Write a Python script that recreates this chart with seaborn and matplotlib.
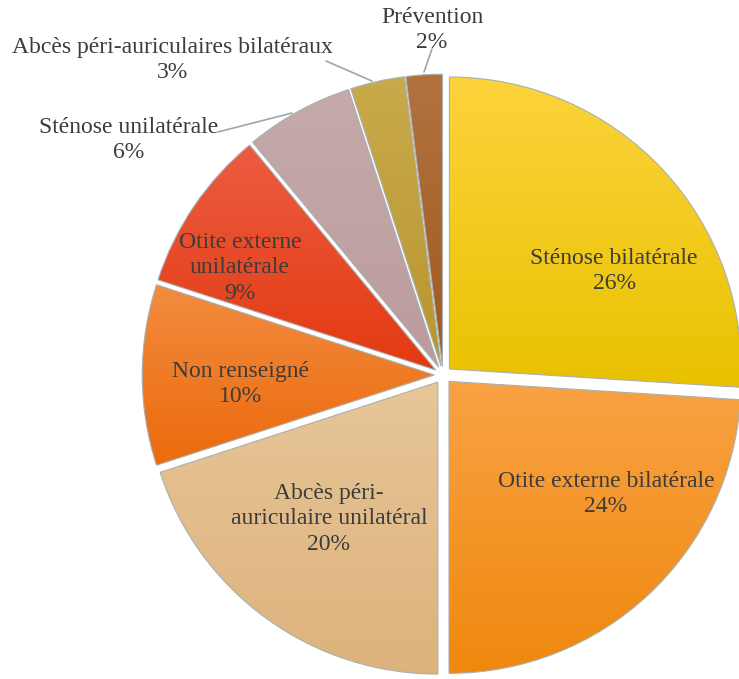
"""Pie chart of indications, recreated with seaborn/matplotlib."""

import matplotlib.pyplot as plt
import numpy as np
import seaborn as sns
from matplotlib.colors import LinearSegmentedColormap

categories = [
    "Sténose bilatérale",
    "Otite externe bilatérale",
    "Abcès péri-auriculaire unilatéral",
    "Non renseigné",
    "Otite externe unilatérale",
    "Sténose unilatérale",
    "Abcès péri-auriculaires bilatéraux",
    "Prévention",
]
shares = [26, 24, 20, 10, 9, 6, 3, 2]
label_texts = [
    "Sténose bilatérale\n26%",
    "Otite externe bilatérale\n24%",
    "Abcès péri-\nauriculaire unilatéral\n20%",
    "Non renseigné\n10%",
    "Otite externe\nunilatérale\n9%",
    "Sténose unilatérale\n6%",
    "Abcès péri-auriculaires bilatéraux\n3%",
    "Prévention\n2%",
]
# (top colour, bottom colour) of each slice gradient
top_colors = ["#FDD33C", "#F9A244", "#E7C698", "#F28C40", "#EC5C42",
              "#C4AAAA", "#C9AA4C", "#B2723E"]
bottom_colors = ["#E8C200", "#EF880E", "#DDB27C", "#EC6A0C", "#E33A10",
                 "#BC9C9C", "#B8962E", "#A05A20"]

W, H = 739, 679
CX, CY, R = 443, 375, 292  # pie centre and radius in pixels

sns.set_theme(style="white")
plt.rcParams["font.family"] = ["Liberation Serif", "DejaVu Serif"]

fig = plt.figure(figsize=(W / 100, H / 100), dpi=100)
ax = fig.add_axes([0, 0, 1, 1])

wedges, _ = ax.pie(
    shares,
    startangle=90,
    counterclock=False,
    explode=[0.03] * len(shares),
    radius=1,
    wedgeprops=dict(edgecolor="#A9B0B2", linewidth=0.8),
)

# vertical gradient fill for each slice
grad = np.linspace(0, 1, 256).reshape(-1, 1)
for w, c0, c1 in zip(wedges, top_colors, bottom_colors):
    verts = w.get_path().vertices
    x0, y0 = verts.min(axis=0)
    x1, y1 = verts.max(axis=0)
    cmap = LinearSegmentedColormap.from_list("g", [c0, c1])
    im = ax.imshow(grad, cmap=cmap, extent=[x0, x1, y0, y1], origin="upper",
                   aspect="auto", zorder=w.get_zorder() + 0.1)
    im.set_clip_path(w)
    w.set_zorder(w.get_zorder() + 0.2)
    w.set_facecolor("none")

# pie() and imshow() reset the limits, so set them last
ax.set_xlim(-CX / R, (W - CX) / R)
ax.set_ylim(-(H - CY) / R, CY / R)
ax.set_aspect("equal")
ax.axis("off")


def px(x, y):
    return (x - CX) / R, (CY - y) / R


# label centres in pixels
label_pos = [(614, 271), (606, 494), (329, 519), (240, 384), (240, 268),
             (129, 140), (172, 60), (432, 30)]
for txt, (lx, ly) in zip(label_texts, label_pos):
    ax.text(*px(lx, ly), txt, ha="center", va="center", fontsize=17,
            color="#3C3C3C", linespacing=1.3, zorder=10)

# leader lines for the small outside labels
leaders = [[(218, 132), (292, 113)], [(326, 61), (372, 81)], [(432, 49), (424, 72)]]
for (ax0, ay0), (ax1, ay1) in leaders:
    p0, p1 = px(ax0, ay0), px(ax1, ay1)
    ax.plot([p0[0], p1[0]], [p0[1], p1[1]], color="#A0A6A8", lw=1.2, zorder=10)

fig.savefig("out.png", dpi=100)
